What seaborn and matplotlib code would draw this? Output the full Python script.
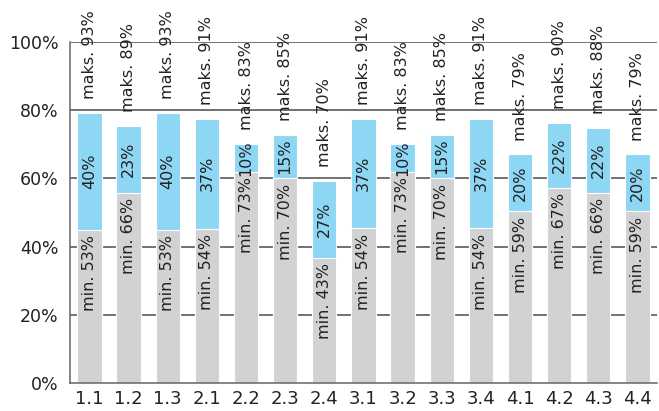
import numpy as np
import pandas as pd
import matplotlib
matplotlib.use("Agg")
import matplotlib.pyplot as plt
import seaborn as sns

# values
categories = ["1.1", "1.2", "1.3", "2.1", "2.2", "2.3", "2.4",
              "3.1", "3.2", "3.3", "3.4", "4.1", "4.2", "4.3", "4.4"]
min_pct = [53, 66, 53, 54, 73, 70, 43, 54, 73, 70, 54, 59, 67, 66, 59]
range_pct = [40, 23, 40, 37, 10, 15, 27, 37, 10, 15, 37, 20, 22, 22, 20]
max_pct = [93, 89, 93, 91, 83, 85, 70, 91, 83, 85, 91, 79, 90, 88, 79]
# drawn bar heights (as they appear on the axis)
gray_height = [45.0, 55.8, 45.0, 45.3, 61.9, 60.0, 36.7, 45.4,
               61.9, 60.0, 45.4, 50.4, 57.3, 55.8, 50.4]
total_height = [79.2, 75.4, 79.2, 77.4, 70.0, 72.8, 59.3, 77.4,
                70.0, 72.8, 77.4, 67.0, 76.2, 74.7, 67.0]

GRAY = "#d1d2d4"
BLUE = "#8dd6f4"
TXT = "#222222"

df = pd.DataFrame({"cat": categories, "low": gray_height, "top": total_height})

sns.set_style("white")
plt.rcParams["font.family"] = ["DejaVu Sans"]

fig = plt.figure(figsize=(6.59, 4.11), dpi=100)
ax = fig.add_axes([0.106, 0.068, 0.891, 0.830])

sns.barplot(data=df, x="cat", y="top", color=BLUE, width=0.62, saturation=1,
            edgecolor="white", linewidth=0.8, ax=ax)
sns.barplot(data=df, x="cat", y="low", color=GRAY, width=0.62, saturation=1,
            edgecolor="white", linewidth=0.8, ax=ax)
for p in ax.patches:
    p.set_zorder(3)

ax.set_ylim(0, 100)
ax.set_xlim(-0.5, len(categories) - 0.5)
ax.set_yticks(np.arange(0, 101, 20))
ax.set_yticklabels([f"{v}%" for v in range(0, 101, 20)])
ax.set_xlabel("")
ax.set_ylabel("")

for y in range(20, 101, 20):
    ax.axhline(y, color="#4a4a4a", lw=1.1, zorder=1)

# ticks between categories on the x axis
ax.set_xticks(np.arange(len(categories)))
ax.set_xticklabels(categories)
ax.set_xticks(np.arange(-0.5, len(categories)), minor=True)
ax.tick_params(axis="x", which="major", length=0, pad=5, labelsize=13, colors=TXT)
ax.tick_params(axis="x", which="minor", length=5, width=1, color="#555555", direction="out")
ax.tick_params(axis="y", length=5, width=1, color="#555555", labelsize=12.5, labelcolor=TXT, pad=3)

for s in ["top", "right"]:
    ax.spines[s].set_visible(False)
for s in ["left", "bottom"]:
    ax.spines[s].set_color("#666666")
    ax.spines[s].set_linewidth(1.1)
    ax.spines[s].set_zorder(4)

for i in range(len(categories)):
    lo, hi = gray_height[i], total_height[i]
    ax.annotate(f"min. {min_pct[i]}%", (i, lo), xytext=(0, -4), textcoords="offset points",
                rotation=90, ha="center", va="top", fontsize=11.5, color=TXT, zorder=5)
    ax.text(i, (lo + hi) / 2, f"{range_pct[i]}%", rotation=90, ha="center", va="center",
            fontsize=11.5, color=TXT, zorder=5)
    ax.annotate(f"maks. {max_pct[i]}%", (i, hi), xytext=(0, 10), textcoords="offset points",
                rotation=90, ha="center", va="bottom", fontsize=11.5, color=TXT,
                zorder=5, annotation_clip=False)

fig.savefig("out.png", dpi=100)
